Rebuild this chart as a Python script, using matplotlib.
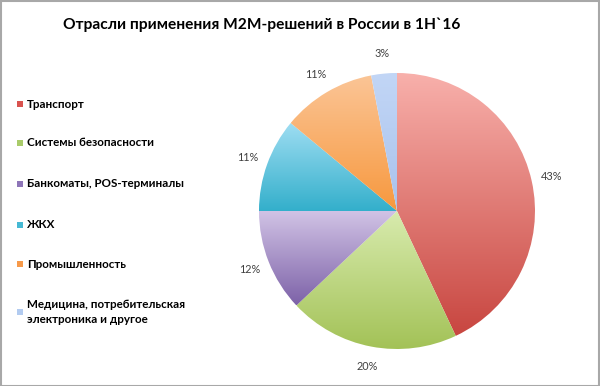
import matplotlib
matplotlib.use("Agg")
import matplotlib.pyplot as plt
import numpy as np
from matplotlib.colors import LinearSegmentedColormap
from matplotlib.patches import Rectangle

categories = ["Транспорт", "Системы безопасности", "Банкоматы, POS-терминалы",
              "ЖКХ", "Промышленность", "Медицина, потребительская\nэлектроника и другое"]
values = [43, 20, 12, 11, 11, 3]
top_colors = ["#F8B0AB", "#D8EBAE", "#D2C4E6", "#9EDDF2", "#FBC596", "#C2D6F6"]
bottom_colors = ["#C84640", "#A3C257", "#7D62A8", "#33AFCB", "#F7983E", "#A9C2EC"]
legend_colors = ["#D9534F", "#A9CB6A", "#8E75B8", "#45B9D4", "#F79A4A", "#B2CBF0"]
title = "Отрасли применения M2M-решений в России в 1H`16"

plt.rcParams['font.family'] = ['Lato', 'DejaVu Sans']

fig = plt.figure(figsize=(6.0, 3.86), dpi=100)
W, H = 600, 386
cx, cy, r = 397, 211, 138
ax = fig.add_axes([(cx - r) / W, (H - cy - r) / H, 2 * r / W, 2 * r / H])

wedges, texts, autotexts = ax.pie(values, startangle=90, counterclock=False,
                                  autopct=lambda p: f"{p:.0f}%", pctdistance=1.15,
                                  wedgeprops=dict(linewidth=0),
                                  textprops=dict(fontsize=7.8, color="#404040"))
for w, c1, c2 in zip(wedges, top_colors, bottom_colors):
    ext = w.get_path().get_extents()
    cmap = LinearSegmentedColormap.from_list("g", [c2, c1])
    grad = np.linspace(0, 1, 256).reshape(-1, 1)
    im = ax.imshow(grad, cmap=cmap, origin="lower", aspect="auto",
                   extent=[ext.x0, ext.x1, ext.y0, ext.y1], zorder=1)
    im.set_clip_path(w)
    w.set_facecolor("none")
ax.set_xlim(-1, 1)
ax.set_ylim(-1, 1)
ax.set_aspect("equal")
ax.axis("off")

fig.text(262 / W, 1 - 25 / H, title, ha="center", va="center",
         fontsize=11.2, fontweight="bold", color="black")

leg_y = [104, 143, 184, 225, 264, 312]
for cat, col, y in zip(categories, legend_colors, leg_y):
    fig.patches.append(Rectangle((17 / W, 1 - (y + 3) / H), 6 / W, 6 / H,
                                 transform=fig.transFigure, facecolor=col,
                                 edgecolor="none"))
    fig.text(27 / W, 1 - y / H, cat, ha="left", va="center", fontsize=8.4,
             fontweight="bold", color="black", linespacing=1.35)

fig.patches.append(Rectangle((0.5 / W, 0.5 / H), 1 - 1.5 / W, 1 - 1.5 / H,
                             transform=fig.transFigure, facecolor="none",
                             edgecolor="#A8A8A8", linewidth=1.5))

fig.savefig("out.png", dpi=100)
